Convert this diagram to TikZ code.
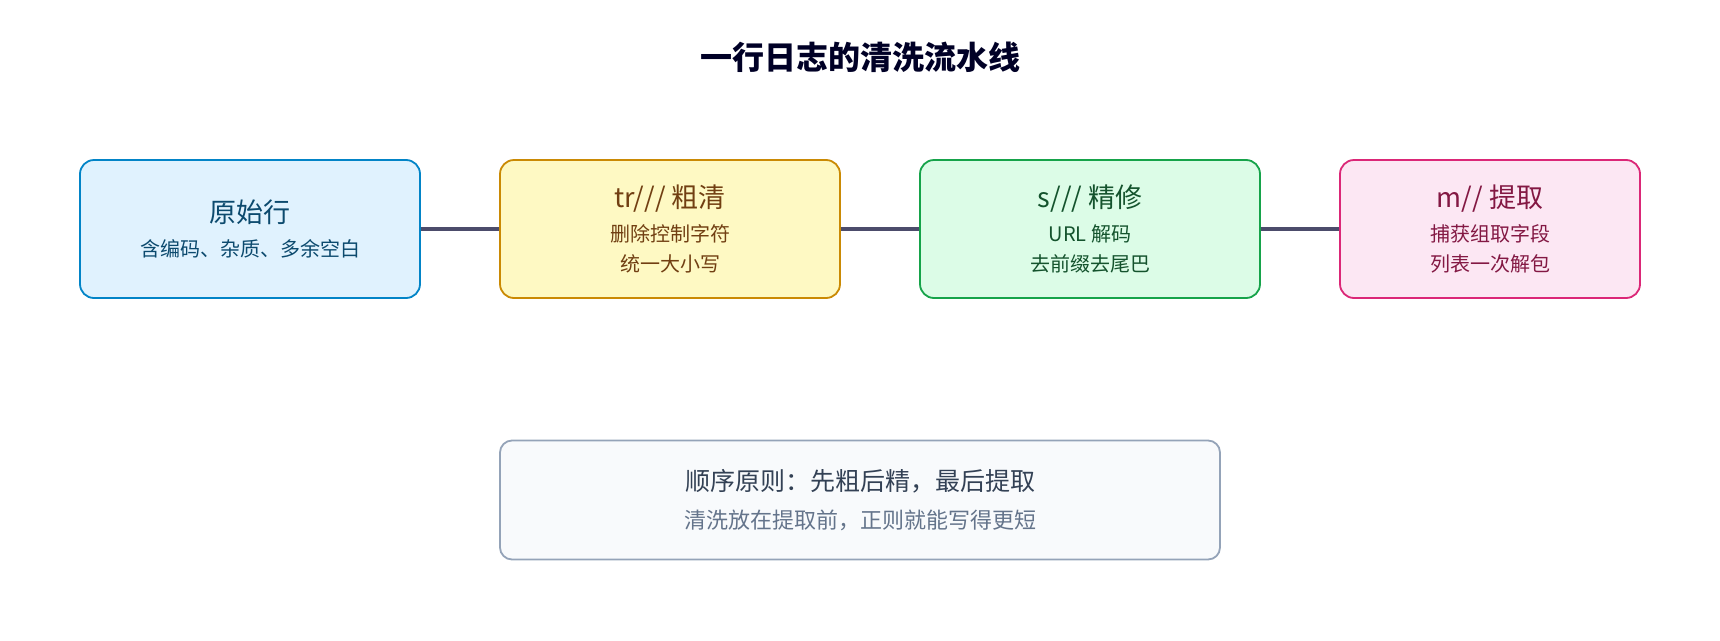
\documentclass[tikz,border=0pt]{standalone}
\usepackage{fontspec}
\setmainfont{Noto Sans CJK SC}
\begin{document}
\begin{tikzpicture}[x=1pt,y=-1pt,
 box/.style={draw,rounded corners=14pt,line width=1.8pt,minimum height=138pt,align=center,inner sep=0pt,font=\fontsize{20}{30}\selectfont},
 link/.style={draw=black!70!blue!40!gray,line width=3.5pt}]
\useasboundingbox (0,0) rectangle (1720,640);
\definecolor{c1f}{HTML}{E0F2FE}\definecolor{c1d}{HTML}{0284C7}\definecolor{c1t}{HTML}{0C4A6E}
\definecolor{c2f}{HTML}{FEF9C3}\definecolor{c2d}{HTML}{CA8A04}\definecolor{c2t}{HTML}{713F12}
\definecolor{c3f}{HTML}{DCFCE7}\definecolor{c3d}{HTML}{16A34A}\definecolor{c3t}{HTML}{14532D}
\definecolor{c4f}{HTML}{FCE7F3}\definecolor{c4d}{HTML}{DB2777}\definecolor{c4t}{HTML}{831843}
\definecolor{c5f}{HTML}{F8FAFC}\definecolor{c5d}{HTML}{94A3B8}
\definecolor{c5t}{HTML}{334155}\definecolor{c5s}{HTML}{64748B}
\newcommand{\bt}[1]{{\fontsize{27}{32}\selectfont #1}}
\node[font=\fontsize{32}{36}\selectfont\bfseries,text=black!85!blue] (t) at (860,57) {一行日志的清洗流水线};
\node[box,fill=c1f,draw=c1d,text=c1t,minimum width=340pt] (a) at (250,229)
 {\bt{原始行}\\[4pt]含编码、杂质、多余空白};
\node[box,fill=c2f,draw=c2d,text=c2t,minimum width=340pt] (b) at (670,229)
 {\bt{tr/// 粗清}\\[4pt]删除控制字符\\统一大小写};
\node[box,fill=c3f,draw=c3d,text=c3t,minimum width=340pt] (c) at (1090,229)
 {\bt{s/// 精修}\\[4pt]URL 解码\\去前缀去尾巴};
\node[box,fill=c4f,draw=c4d,text=c4t,minimum width=300pt] (d) at (1490,229)
 {\bt{m// 提取}\\[4pt]捕获组取字段\\列表一次解包};
\path[link] (a.east) -- (b.west);
\path[link] (b.east) -- (c.west);
\path[link] (c.east) -- (d.west);
\node[box,fill=c5f,draw=c5d,minimum width=720pt,minimum height=119pt,rounded corners=12pt,font=\fontsize{22}{30}\selectfont] (e) at (860,500)
 {\textcolor{c5t}{\fontsize{25}{30}\selectfont 顺序原则：先粗后精，最后提取}\\[8pt]\textcolor{c5s}{清洗放在提取前，正则就能写得更短}};
\end{tikzpicture}
\end{document}
